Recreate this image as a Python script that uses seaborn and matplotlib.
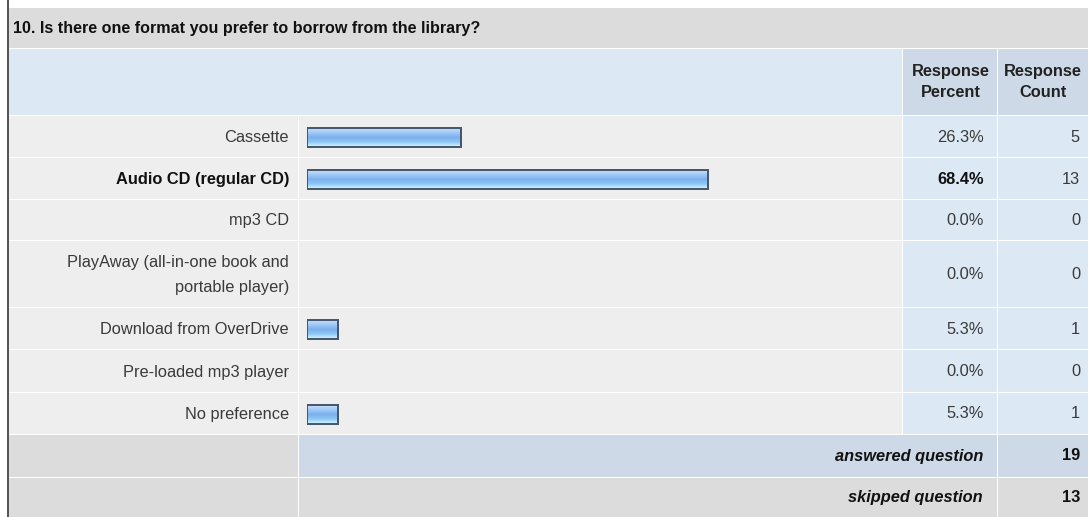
import numpy as np
import pandas as pd
import matplotlib
matplotlib.use("Agg")
import matplotlib.pyplot as plt
from matplotlib.patches import Rectangle
from matplotlib.colors import LinearSegmentedColormap
import seaborn as sns

# survey data
title = "10. Is there one format you prefer to borrow from the library?"
answers = [
    "Cassette",
    "Audio CD (regular CD)",
    "mp3 CD",
    "PlayAway (all-in-one book and\nportable player)",
    "Download from OverDrive",
    "Pre-loaded mp3 player",
    "No preference",
]
percent = [26.3, 68.4, 0.0, 0.0, 5.3, 0.0, 5.3]
count = [5, 13, 0, 0, 1, 0, 1]
answered = 19
skipped = 13

# table layout in pixels (image is 1088 x 517)
W, H = 1088, 517
row_edges = [116, 158, 200, 241, 308, 350, 393, 435]
row_centers = [(a + b) / 2 for a, b in zip(row_edges[:-1], row_edges[1:])]
x_left, x_label, x_pct, x_cnt = 9, 299, 903, 998
bar_x0, bar_x100 = 307, 893
BAR_H = 19

GRAY = "#dcdcdc"
ROW = "#eeeeee"
LIGHTBLUE = "#dde8f5"
BLUEGRAY = "#cdd9e6"

sns.set_theme(style="white")
plt.rcParams["font.family"] = ["Liberation Sans", "DejaVu Sans"]

fig = plt.figure(figsize=(W / 100, H / 100), dpi=100)
ax = fig.add_axes([0, 0, 1, 1])
ax.set_xlim(0, W)
ax.set_ylim(H, 0)
ax.axis("off")


def cell(x0, y0, x1, y1, color):
    ax.add_patch(Rectangle((x0, y0), x1 - x0 - 1, y1 - y0 - 1, facecolor=color,
                           edgecolor="none", zorder=1))


# left border
ax.add_patch(Rectangle((6.5, 0), 2, H, facecolor="#555555", edgecolor="none", zorder=2))

# title row and header
cell(x_left, 8, W + 1, 49, GRAY)
cell(x_left, 49, x_pct, 116, LIGHTBLUE)
cell(x_pct, 49, x_cnt, 116, BLUEGRAY)
cell(x_cnt, 49, W + 1, 116, BLUEGRAY)

# answer rows
for y0, y1 in zip(row_edges[:-1], row_edges[1:]):
    cell(x_left, y0, x_label, y1, ROW)
    cell(x_label, y0, x_pct, y1, ROW)
    cell(x_pct, y0, x_cnt, y1, LIGHTBLUE)
    cell(x_cnt, y0, W + 1, y1, LIGHTBLUE)

# summary rows
cell(x_left, 435, x_label, 478, GRAY)
cell(x_label, 435, x_cnt, 478, BLUEGRAY)
cell(x_cnt, 435, W + 1, 478, BLUEGRAY)
cell(x_left, 478, x_label, H + 2, GRAY)
cell(x_label, 478, x_cnt, H + 2, GRAY)
cell(x_cnt, 478, W + 1, H + 2, GRAY)

fs = 11.8
ax.text(13, 28.5, title, fontsize=fs - 0.2, fontweight="bold", color="#111111",
        ha="left", va="center", zorder=5)
ax.text((x_pct + x_cnt) / 2, 82, "Response\nPercent", fontsize=fs, fontweight="bold",
        color="#222222", ha="center", va="center", linespacing=1.5, zorder=5)
ax.text((x_cnt + W) / 2, 82, "Response\nCount", fontsize=fs, fontweight="bold",
        color="#222222", ha="center", va="center", linespacing=1.5, zorder=5)

for i, yc in enumerate(row_centers):
    bold = i == 1
    weight = "bold" if bold else "normal"
    col = "#111111" if bold else "#3a3a3a"
    ax.text(289, yc + 0.5, answers[i], fontsize=fs, fontweight=weight, color=col,
            ha="right", va="center", linespacing=1.9, zorder=5)
    ax.text(984, yc, f"{percent[i]:.1f}%", fontsize=fs, fontweight=weight, color=col,
            ha="right", va="center", zorder=5)
    ax.text(1080, yc, str(count[i]), fontsize=fs, color="#3a3a3a",
            ha="right", va="center", zorder=5)

ax.text(983, 456, "answered question", fontsize=fs, fontweight="bold", style="italic",
        color="#111111", ha="right", va="center", zorder=5)
ax.text(1080, 456, str(answered), fontsize=fs, fontweight="bold", color="#111111",
        ha="right", va="center", zorder=5)
ax.text(983, 497.5, "skipped question", fontsize=fs, fontweight="bold", style="italic",
        color="#111111", ha="right", va="center", zorder=5)
ax.text(1080, 497.5, str(skipped), fontsize=fs, fontweight="bold", color="#111111",
        ha="right", va="center", zorder=5)

# bars: percent axis placed over the bar column
bax = fig.add_axes([bar_x0 / W, 0, (bar_x100 - bar_x0) / W, 1])
bax.patch.set_alpha(0)
df = pd.DataFrame({"answer": answers, "percent": percent, "y": row_centers})
spacing = np.diff(sorted(row_centers)).min()
sns.barplot(data=df, x="percent", y="y", orient="h", native_scale=True,
            width=BAR_H / spacing, color="#8fbff3", edgecolor="#44546a",
            linewidth=1.4, ax=bax)

grad = LinearSegmentedColormap.from_list(
    "bar", [(0, "#cfe4fb"), (0.25, "#a6cdf7"), (0.55, "#7ab0ee"),
            (0.8, "#8fc8f4"), (1, "#c8f0fd")])
g = grad(np.linspace(0, 1, 40))[:, None, :3]
for p in bax.patches:
    if p.get_width() <= 0:
        p.set_visible(False)
        continue
    x0, y0 = p.get_x(), p.get_y()
    x1, y1 = x0 + p.get_width(), y0 + p.get_height()
    p.set_facecolor("none")
    p.set_zorder(4)
    im = bax.imshow(g, extent=(x0, x1, max(y0, y1), min(y0, y1)), aspect="auto",
                    zorder=3, interpolation="bilinear")
    im.set_clip_path(p)

bax.set_xlim(0, 100)
bax.set_ylim(H, 0)
bax.axis("off")

fig.savefig("out.png", dpi=100)
